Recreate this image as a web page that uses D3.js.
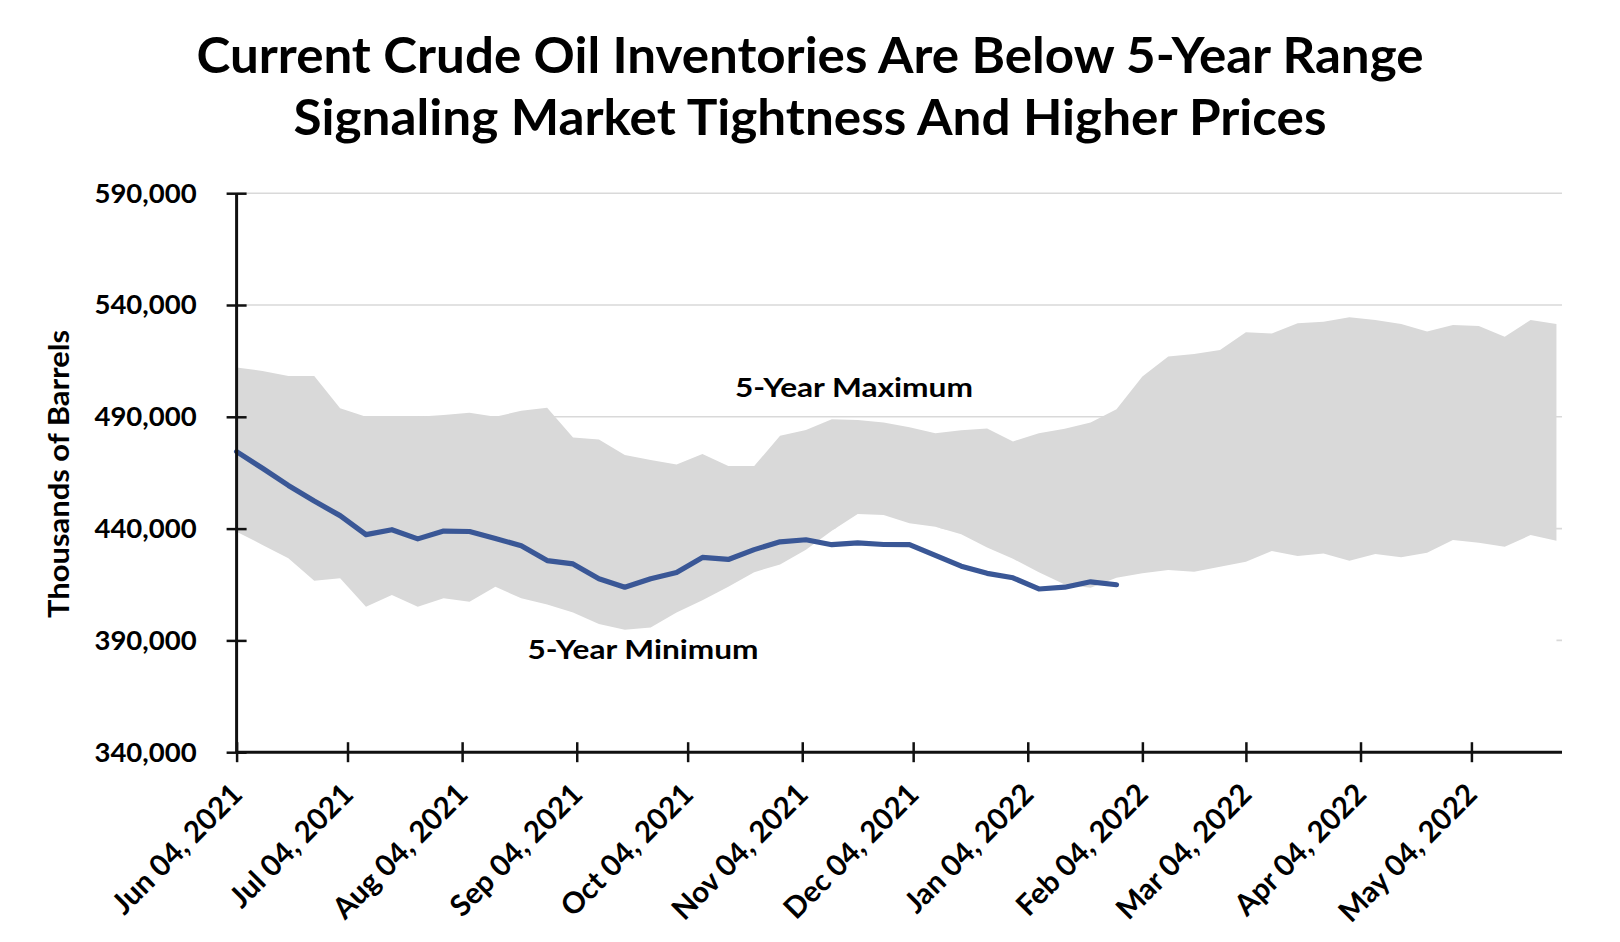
<!DOCTYPE html>
<html>
<head>
<meta charset="utf-8">
<script src="https://cdn.jsdelivr.net/npm/d3@7"></script>
<style>
  html, body { margin: 0; padding: 0; background: #fff; }
  svg text { font-family: Lato, "Open Sans", sans-serif; font-weight: 700; fill: #000; }
</style>
</head>
<body>
<svg id="chart" width="1620" height="942"></svg>
<script>
// ---- data ----
const titleLines = ["Current Crude Oil Inventories Are Below 5-Year Range",
                    "Signaling Market Tightness And Higher Prices"];
const yAxisTitle = "Thousands of Barrels";
const maxLabel = "5-Year Maximum";
const minLabel = "5-Year Minimum";

const weeks = ["2021-06-04","2021-06-11","2021-06-18","2021-06-25","2021-07-02","2021-07-09","2021-07-16",
  "2021-07-23","2021-07-30","2021-08-06","2021-08-13","2021-08-20","2021-08-27","2021-09-03","2021-09-10",
  "2021-09-17","2021-09-24","2021-10-01","2021-10-08","2021-10-15","2021-10-22","2021-10-29","2021-11-05",
  "2021-11-12","2021-11-19","2021-11-26","2021-12-03","2021-12-10","2021-12-17","2021-12-24","2021-12-31",
  "2022-01-07","2022-01-14","2022-01-21","2022-01-28","2022-02-04","2022-02-11","2022-02-18","2022-02-25",
  "2022-03-04","2022-03-11","2022-03-18","2022-03-25","2022-04-01","2022-04-08","2022-04-15","2022-04-22",
  "2022-04-29","2022-05-06","2022-05-13","2022-05-20","2022-05-27"];

const fiveYearMax = [512100,510500,508200,508200,493800,490000,490000,490000,490800,491800,490000,492700,494100,
  480700,479900,472900,470700,468700,473400,468000,468000,481500,484100,488900,488600,487400,485300,482600,
  484000,484800,479000,482600,484600,487400,493400,508000,517000,518100,519900,527800,527300,531800,532500,
  534500,533300,531500,528100,531000,530600,525800,533300,531500];

const fiveYearMin = [438600,432700,426700,416700,417800,405100,410300,405100,408800,407300,414000,408800,406000,
  402500,397300,394800,395800,402500,408000,414000,420500,424000,430500,439000,446500,446100,442400,440800,
  437500,431500,426500,420500,415000,413500,418000,420000,421500,420700,422900,425200,430000,427700,428900,
  425600,428600,427200,429200,434900,433700,431900,437100,434600];

const currentStocks = [474400,467000,459300,452300,445800,437300,439500,435400,438900,438700,435600,432300,
  425700,424200,417600,413800,417600,420400,427100,426200,430600,434100,435000,432800,433600,432900,432800,
  428000,423200,420000,418000,413000,413800,416200,414900];

const yTicks = [340000,390000,440000,490000,540000,590000];
const xTickDates = ["2021-06-04","2021-07-04","2021-08-04","2021-09-04","2021-10-04","2021-11-04",
  "2021-12-04","2022-01-04","2022-02-04","2022-03-04","2022-04-04","2022-05-04"];
const xDomain = ["2021-06-04T00:00","2022-05-28T12:00"];

// ---- layout ----
const m = { left: 236.6, right: 1562, top: 193.2, bottom: 752.2 };
const parse = d3.timeParse("%Y-%m-%d");
const svg = d3.select("#chart");

const x = d3.scaleTime()
  .domain([d3.isoParse(xDomain[0]), d3.isoParse(xDomain[1])])
  .range([m.left, m.right]);
const y = d3.scaleLinear().domain([340000, 590000]).range([m.bottom, m.top]);

const band = weeks.map((w, i) => ({ date: parse(w), lo: fiveYearMin[i], hi: fiveYearMax[i] }));
const cur = currentStocks.map((v, i) => ({ date: parse(weeks[i]), v }));

// gridlines
svg.append("g").selectAll("line").data(yTicks.filter(t => t > 340000)).join("line")
  .attr("x1", m.left).attr("x2", m.right)
  .attr("y1", d => y(d)).attr("y2", d => y(d))
  .attr("stroke", "#d9d9d9").attr("stroke-width", 1.6);

// white area under minimum (hides gridlines like a stacked area)
svg.append("path").datum(band)
  .attr("fill", "#ffffff")
  .attr("d", d3.area().x(d => x(d.date)).y0(y(340000)).y1(d => y(d.lo)));

// gray band between min and max
svg.append("path").datum(band)
  .attr("fill", "#d9d9d9")
  .attr("d", d3.area().x(d => x(d.date)).y0(d => y(d.lo)).y1(d => y(d.hi)));

// current line
svg.append("path").datum(cur)
  .attr("fill", "none").attr("stroke", "#3a5796").attr("stroke-width", 5.2)
  .attr("stroke-linejoin", "round").attr("stroke-linecap", "round")
  .attr("d", d3.line().x(d => x(d.date)).y(d => y(d.v)));

// y axis
const yAxis = d3.axisLeft(y).tickValues(yTicks).tickFormat(d3.format(",")).tickSize(0).tickPadding(40);
const gy = svg.append("g").attr("transform", `translate(${m.left},0)`).call(yAxis);
gy.select(".domain").attr("stroke", "#111").attr("stroke-width", 3)
  .attr("d", `M0,${m.top}V${m.bottom}`);
gy.selectAll(".tick").append("line").attr("x1", -10).attr("x2", 10)
  .attr("stroke", "#111").attr("stroke-width", 2.5);
gy.selectAll(".tick text").attr("font-size", 27.5).attr("font-family", "Lato, sans-serif")
  .attr("font-weight", 700).attr("fill", "#000");

// x axis
const xAxis = d3.axisBottom(x).tickValues(xTickDates.map(parse)).tickFormat(d3.timeFormat("%b %d, %Y")).tickSize(0);
const gx = svg.append("g").attr("transform", `translate(0,${m.bottom})`).call(xAxis);
gx.select(".domain").attr("stroke", "#111").attr("stroke-width", 3)
  .attr("d", `M${m.left},0H${m.right}`);
gx.selectAll(".tick").append("line").attr("y1", -10).attr("y2", 10)
  .attr("stroke", "#111").attr("stroke-width", 2.5);
gx.selectAll(".tick text")
  .attr("font-size", 29.5).attr("font-family", "Lato, sans-serif").attr("font-weight", 700).attr("fill", "#000")
  .attr("text-anchor", "end").attr("dy", null).attr("y", 0)
  .attr("transform", "translate(7,44) rotate(-45)");

// titles
svg.append("text").attr("text-anchor", "middle").attr("font-size", 49)
  .attr("x", 810).attr("y", 73)
  .attr("textLength", 1227).attr("lengthAdjust", "spacingAndGlyphs").text(titleLines[0]);
svg.append("text").attr("text-anchor", "middle").attr("font-size", 49)
  .attr("x", 810).attr("y", 135)
  .attr("textLength", 1033).attr("lengthAdjust", "spacingAndGlyphs").text(titleLines[1]);

// y axis title
svg.append("text").attr("text-anchor", "middle").attr("font-size", 29)
  .attr("transform", "translate(69,474) rotate(-90)")
  .attr("textLength", 288).attr("lengthAdjust", "spacingAndGlyphs").text(yAxisTitle);

// annotations
svg.append("text").attr("text-anchor", "middle").attr("font-size", 27)
  .attr("x", 854).attr("y", 397)
  .attr("textLength", 238).attr("lengthAdjust", "spacingAndGlyphs").text(maxLabel);
svg.append("text").attr("text-anchor", "middle").attr("font-size", 27)
  .attr("x", 643).attr("y", 659)
  .attr("textLength", 231).attr("lengthAdjust", "spacingAndGlyphs").text(minLabel);
</script>
</body>
</html>
